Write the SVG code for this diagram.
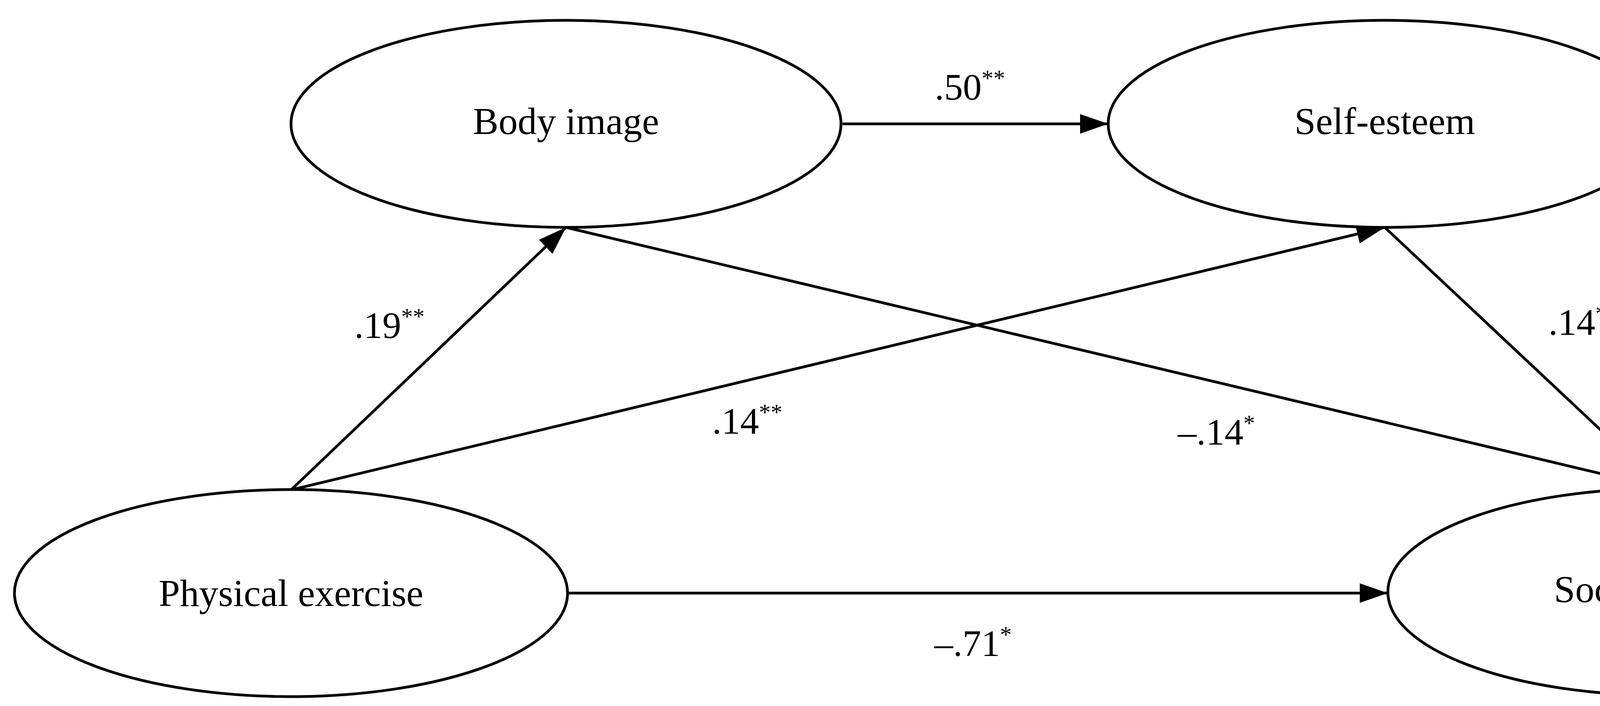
<svg xmlns="http://www.w3.org/2000/svg" width="6378" height="1807" viewBox="0 0 6378 1807">
<style>
.n{fill:#fff;stroke:#000;stroke-width:7}
.t{font-family:"Liberation Serif",serif;font-size:98px;text-anchor:middle;dominant-baseline:central}
.l{font-family:"Liberation Serif",serif;font-size:96px;text-anchor:middle}
.s{font-size:60px}
.e{stroke:#000;stroke-width:7;fill:none;marker-end:url(#a)}
</style>
<defs><marker id="a" markerUnits="userSpaceOnUse" markerWidth="80" markerHeight="60" refX="72" refY="25" orient="auto"><path d="M0,0 L72,25 L0,50 Z" fill="#000"/></marker></defs>
<rect width="6378" height="1807" fill="#fff"/>
<g id="connectors">
<line class="e" x1="2157" y1="317" x2="2837" y2="317"/>
<line class="e" x1="745" y1="1254" x2="1449" y2="582"/>
<line class="e" x1="745" y1="1254" x2="3545" y2="582"/>
<line class="e" x1="1449" y1="582" x2="4257" y2="1250"/>
<line class="e" x1="3545" y1="582" x2="4257" y2="1250"/>
<line class="e" x1="1453" y1="1518" x2="3553" y2="1518"/>
<text class="l" x="2483" y="255">.50<tspan class="s" dy="-35">**</tspan></text>
<text class="l" x="997" y="865">.19<tspan class="s" dy="-35">**</tspan></text>
<text class="l" x="1913" y="1110">.14<tspan class="s" dy="-35">**</tspan></text>
<text class="l" x="3114" y="1138">–.14<tspan class="s" dy="-35">*</tspan></text>
<text class="l" x="4054" y="857">.14<tspan class="s" dy="-35">**</tspan></text>
<text class="l" x="2491" y="1679">–.71<tspan class="s" dy="-35">*</tspan></text>
</g>
<g id="body"><ellipse class="n" cx="1449" cy="317" rx="704" ry="265"/><text class="t" x="1449" y="310">Body image</text></g>
<g id="self"><ellipse class="n" cx="3545" cy="317" rx="708" ry="265"/><text class="t" x="3545" y="310">Self-esteem</text></g>
<g id="phys"><ellipse class="n" cx="745" cy="1518" rx="708" ry="265"/><text class="t" x="745" y="1518">Physical exercise</text></g>
<g id="social"><ellipse class="n" cx="4257" cy="1515" rx="704" ry="265"/><text class="t" x="4257" y="1508">Social anxiety</text></g>
</svg>
